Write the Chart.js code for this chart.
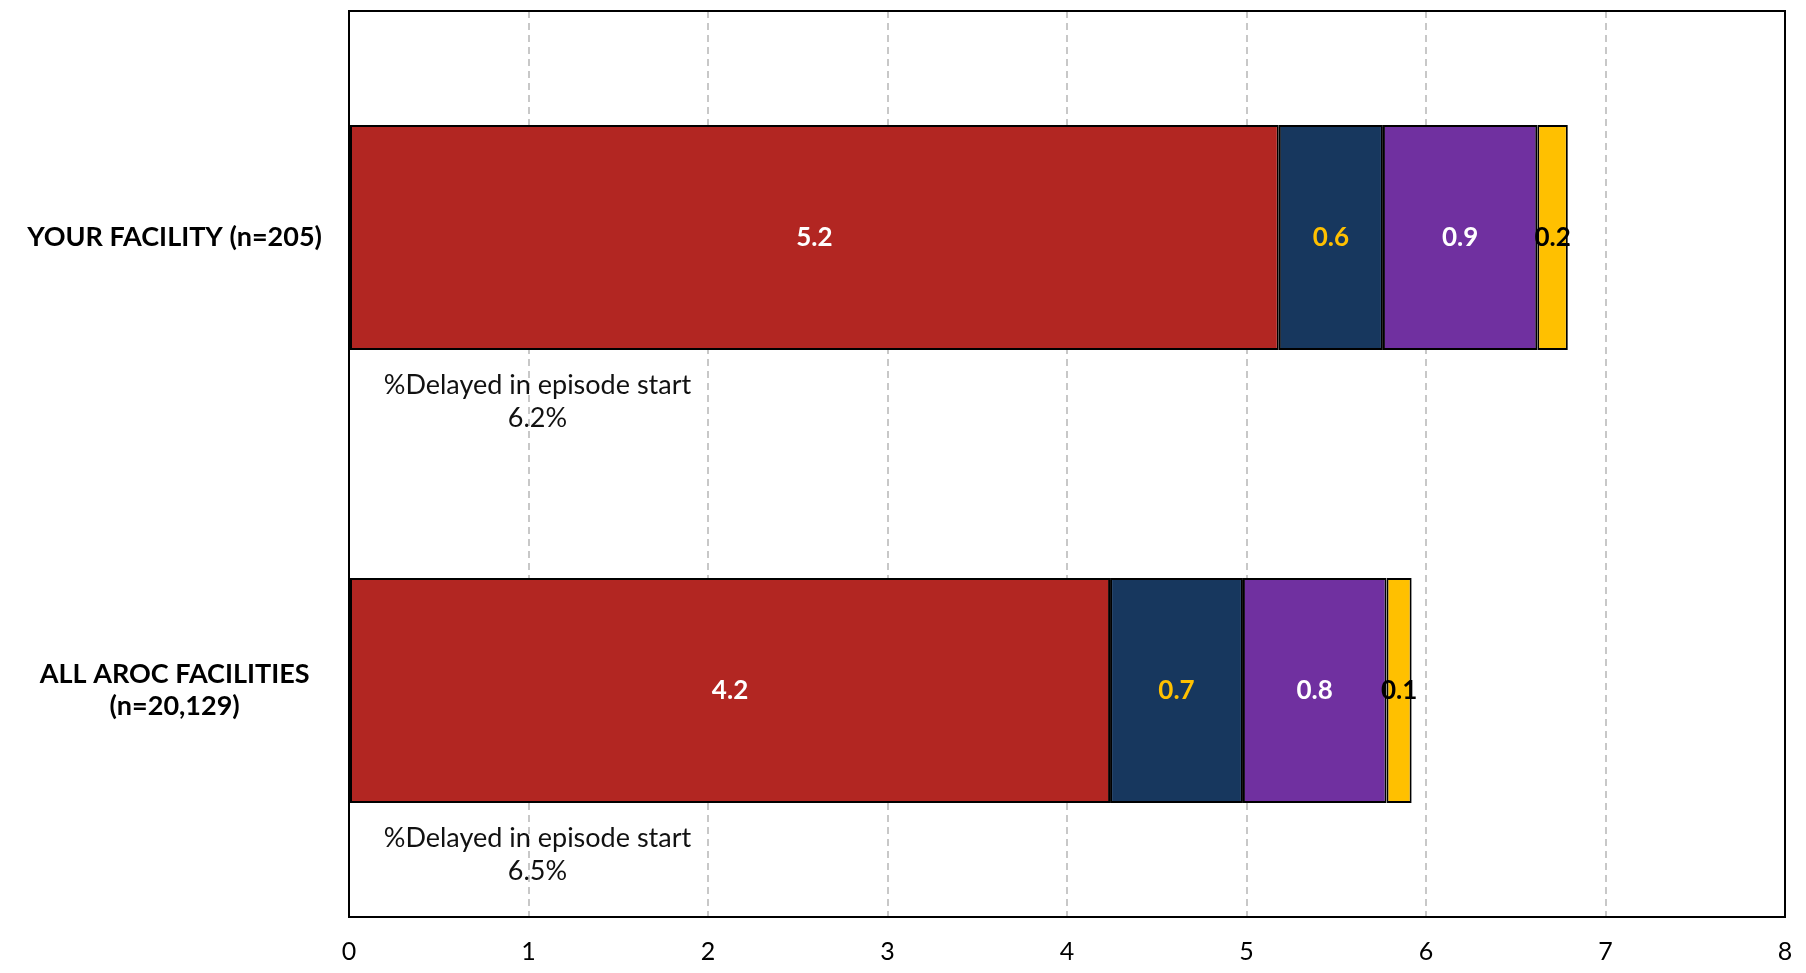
<!DOCTYPE html>
<html>
<head>
<meta charset="utf-8">
<script src="https://cdn.jsdelivr.net/npm/chart.js@4.4.1/dist/chart.umd.min.js"></script>
<style>
  html, body { margin: 0; padding: 0; background: #fff; }
  #wrap { width: 1806px; height: 973px; }
</style>
</head>
<body>
<div id="wrap"><canvas id="delayChart"></canvas></div>
<script>
const categories = [["YOUR FACILITY (n=205)"], ["ALL AROC FACILITIES", "(n=20,129)"]];
const seriesNames = ["Segment 1", "Segment 2", "Segment 3", "Segment 4"];
const seg1 = [5.18, 4.24];
const seg2 = [0.58, 0.74];
const seg3 = [0.86, 0.80];
const seg4 = [0.17, 0.14];
const delayedPct = ["6.2%", "6.5%"];
const xTicks = [0, 1, 2, 3, 4, 5, 6, 7, 8];

const fillColors = ["#B22622", "#17375E", "#7030A0", "#FFC000"];
const labelColors = ["#FFFFFF", "#FFC000", "#FFFFFF", "#000000"];
const FONT = "Lato, 'Open Sans', sans-serif";

// value labels in the middle of each segment
const segmentLabels = {
    id: "segmentLabels",
    afterDatasetsDraw(chart) {
        const ctx = chart.ctx;
        ctx.save();
        ctx.font = "bold 26px " + FONT;
        ctx.textAlign = "center";
        ctx.textBaseline = "middle";
        chart.data.datasets.forEach((ds, i) => {
            const meta = chart.getDatasetMeta(i);
            meta.data.forEach((bar, j) => {
                const p = bar.getProps(["x", "y", "base"], true);
                ctx.fillStyle = labelColors[i];
                ctx.fillText(ds.data[j].toFixed(1), (p.x + p.base) / 2, p.y);
            });
        });
        ctx.restore();
    }
};

// "%Delayed in episode start" note under each bar + plot frame
const notesAndFrame = {
    id: "notesAndFrame",
    afterDraw(chart) {
        const ctx = chart.ctx;
        const xs = chart.scales.x, ys = chart.scales.y;
        ctx.save();
        ctx.font = "27px " + FONT;
        ctx.fillStyle = "#111";
        ctx.textAlign = "center";
        ctx.textBaseline = "middle";
        delayedPct.forEach((pct, i) => {
            const cx = xs.getPixelForValue(1.05);
            const cy = ys.getPixelForValue(i);
            ctx.fillText("%Delayed in episode start", cx, cy + 148);
            ctx.fillText(pct, cx, cy + 181);
        });
        const a = chart.chartArea;
        ctx.strokeStyle = "#000";
        ctx.lineWidth = 2;
        ctx.strokeRect(a.left, a.top, a.right - a.left, a.bottom - a.top);
        ctx.restore();
    }
};

const ctx = document.getElementById("delayChart").getContext("2d");
const datasets = [seg1, seg2, seg3, seg4].map((d, i) => ({
    label: seriesNames[i],
    data: d,
    backgroundColor: fillColors[i],
    borderColor: "#000",
    borderWidth: 2,
    borderSkipped: false,
    categoryPercentage: 1,
    barPercentage: 0.497
}));

new Chart(ctx, {
    type: "bar",
    data: { labels: categories, datasets: datasets },
    options: {
        indexAxis: "y",
        responsive: true,
        maintainAspectRatio: false,
        animation: false,
        layout: { padding: { top: 11, right: 21, left: 0, bottom: 0 } },
        plugins: {
            legend: { display: false },
            tooltip: { enabled: false }
        },
        scales: {
            x: {
                stacked: true,
                min: 0,
                max: 8,
                afterBuildTicks: (axis) => { axis.ticks = xTicks.map(v => ({ value: v })); },
                ticks: { color: "#000", font: { family: FONT, size: 25 }, padding: 20 },
                grid: {
                    drawTicks: false,
                    color: (c) => (c.tick && (c.tick.value === 0 || c.tick.value === 8)) ? "rgba(0,0,0,0)" : "#C8C8C8",
                    lineWidth: 2
                },
                border: { display: false, dash: [7, 5] },
                afterFit: (axis) => {
                    axis.height = 56;
                    axis.paddingLeft = 0;
                    axis.paddingRight = 0;
                }
            },
            y: {
                stacked: true,
                ticks: {
                    color: "#000",
                    font: { family: FONT, size: 27, weight: "bold" },
                    crossAlign: "center",
                    padding: 27
                },
                grid: { display: false, drawTicks: false },
                border: { display: false },
                afterFit: (axis) => {
                    axis.width = 349;
                    axis.paddingTop = 0;
                    axis.paddingBottom = 0;
                }
            }
        }
    },
    plugins: [segmentLabels, notesAndFrame]
});
</script>
</body>
</html>
